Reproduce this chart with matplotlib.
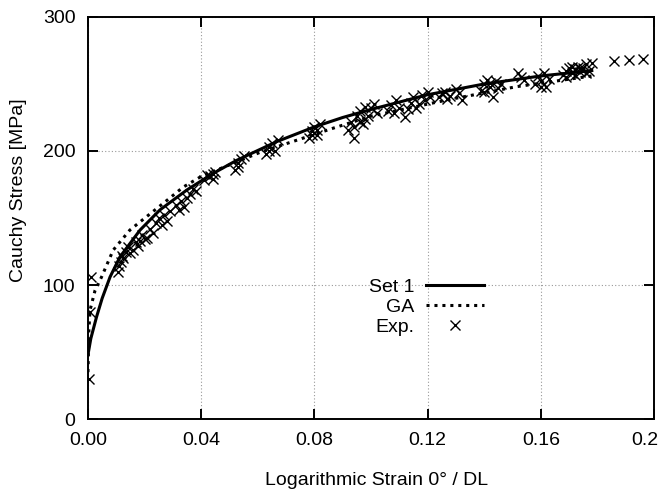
import numpy as np
import matplotlib.pyplot as plt
from matplotlib.transforms import ScaledTranslation

plt.rcParams['font.family'] = ['Liberation Sans', 'DejaVu Sans']

# model curves
set1_strain = [0.0, 0.001, 0.003, 0.005, 0.0078, 0.0113, 0.0184, 0.0254, 0.035, 0.044,
               0.0525, 0.0667, 0.08, 0.09, 0.10, 0.12, 0.14, 0.16, 0.178]
set1_stress = [48, 60, 76, 90, 106, 121, 141, 156, 171, 183,
               193, 207, 218, 225, 231, 242, 250, 256, 260]

ga_strain = [0.0, 0.0003, 0.0007, 0.0025, 0.0048, 0.0089, 0.0148, 0.0207, 0.0278, 0.0336,
             0.04, 0.0608, 0.0737, 0.0866, 0.10, 0.1267, 0.1514, 0.168, 0.178]
ga_stress = [35, 65, 81, 96, 106, 126, 141, 151, 163, 173,
             181, 199, 208, 217, 226, 238, 248, 253, 256]

# experimental points
exp_strain = [0.0005, 0.0008, 0.001, 0.0105, 0.0110, 0.0115, 0.012, 0.0125, 0.0135, 0.014,
              0.015, 0.016, 0.017, 0.0175, 0.0185, 0.019, 0.020, 0.021, 0.022, 0.023,
              0.024, 0.025, 0.026, 0.027, 0.028, 0.029, 0.031, 0.032, 0.033, 0.034,
              0.035, 0.036, 0.037, 0.038, 0.041, 0.042, 0.043, 0.044, 0.044, 0.045,
              0.052, 0.053, 0.053, 0.054, 0.055, 0.063, 0.064, 0.064, 0.065, 0.066,
              0.067, 0.078, 0.079, 0.079, 0.080, 0.081, 0.081, 0.082, 0.092, 0.093,
              0.094, 0.094, 0.095, 0.096, 0.096, 0.097, 0.098, 0.098, 0.099, 0.100,
              0.101, 0.102, 0.106, 0.107, 0.108, 0.109, 0.110, 0.112, 0.113, 0.114,
              0.115, 0.116, 0.117, 0.118, 0.119, 0.120, 0.121, 0.124, 0.125, 0.126,
              0.127, 0.128, 0.130, 0.131, 0.132, 0.139, 0.140, 0.140, 0.141, 0.142,
              0.142, 0.143, 0.144, 0.145, 0.146, 0.152, 0.153, 0.154, 0.158, 0.159,
              0.160, 0.160, 0.161, 0.162, 0.163, 0.168, 0.169, 0.169, 0.170, 0.171,
              0.171, 0.172, 0.172, 0.173, 0.174, 0.174, 0.175, 0.176, 0.176, 0.177,
              0.178, 0.186, 0.191, 0.196]
exp_stress = [30, 80, 106, 110, 114, 117, 122, 120, 125, 128,
              124, 126, 132, 129, 133, 137, 134, 135, 142, 139,
              146, 150, 145, 152, 148, 155, 160, 156, 163, 158,
              165, 168, 172, 170, 178, 182, 181, 183, 179, 184,
              186, 191, 188, 194, 196, 198, 203, 200, 206, 200,
              208, 210, 215, 212, 218, 212, 216, 220, 216, 222,
              210, 218, 226, 230, 222, 220, 233, 224, 226, 232,
              235, 228, 230, 234, 228, 238, 232, 225, 231, 236,
              240, 232, 235, 242, 238, 244, 240, 240, 243, 244,
              239, 241, 246, 243, 238, 245, 250, 244, 253, 248,
              251, 240, 252, 247, 250, 258, 255, 253, 250, 256,
              252, 248, 258, 248, 254, 257, 260, 255, 262, 258,
              263, 261, 257, 263, 259, 262, 262, 265, 258, 260,
              266, 267, 268, 269]

fig = plt.figure(figsize=(6.64, 4.91), dpi=100)
ax = fig.add_axes([0.1325, 0.1466, 0.8525, 0.8188])

ax.plot(set1_strain, set1_stress, color='black', lw=2.2, label='Set 1', zorder=3)
ax.plot(ga_strain, ga_stress, color='black', lw=2.2, ls=(0, (1, 1.6)), label='GA', zorder=3)
ax.plot(exp_strain, exp_stress, ls='none', marker='x', ms=7, mew=1.0, color='black',
        label='Exp.', zorder=2)

ax.set_xlim(0, 0.2)
ax.set_ylim(0, 300)
ax.set_xticks([0.0, 0.04, 0.08, 0.12, 0.16, 0.2])
ax.set_xticklabels(['0.00', '0.04', '0.08', '0.12', '0.16', '0.2'])
ax.set_yticks([0, 100, 200, 300])
ax.grid(True, color='#999999', ls=(0, (1, 2)), lw=0.8)
ax.tick_params(direction='in', length=7, width=1.4, top=True, right=True,
               labelsize=14, pad=9)
for s in ax.spines.values():
    s.set_linewidth(1.4)

# last x label sits a bit left so it stays inside the figure
lab = ax.get_xticklabels()[-1]
lab.set_transform(lab.get_transform() + ScaledTranslation(-0.09, 0, fig.dpi_scale_trans))

ax.set_xlabel('Logarithmic Strain 0° / DL', fontsize=14)
ax.set_ylabel('Cauchy Stress [MPa]', fontsize=14)
ax.xaxis.set_label_coords(0.51, -0.132)
ax.yaxis.set_label_coords(-0.108, 0.57)

ax.legend(loc='center', bbox_to_anchor=(0.598, 0.279), frameon=False, markerfirst=False,
          handlelength=2.95, fontsize=14, labelspacing=0.12, handletextpad=0.6,
          borderpad=0)

fig.savefig('out.png', dpi=100)
